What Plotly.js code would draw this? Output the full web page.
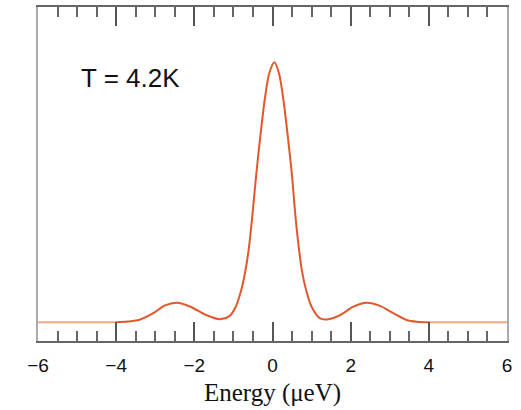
<!DOCTYPE html>
<html>
<head>
<meta charset="utf-8">
<script src="https://cdn.plot.ly/plotly-3.0.1.min.js"></script>
<style>html,body{margin:0;padding:0;background:#fff;}#chart{width:521px;height:410px;}</style>
</head>
<body>
<div id="chart"></div>
<script>
// Energy axis (μeV) and normalized intensity
const energy = [-4.0, -3.7, -3.4, -3.05, -2.75, -2.45, -2.1, -1.7, -1.35, -1.1, -0.94, -0.8, -0.69, -0.6, -0.51, -0.43, -0.35, -0.2, -0.08, 0.05, 0.17, 0.28, 0.43, 0.51, 0.58, 0.67, 0.75, 0.86, 1.0, 1.22, 1.43, 1.73, 2.07, 2.41, 2.75, 3.09, 3.43, 3.7, 4.0];
const intensity = [0.0, 0.003, 0.01, 0.035, 0.065, 0.075, 0.06, 0.028, 0.012, 0.024, 0.06, 0.124, 0.201, 0.291, 0.419, 0.547, 0.663, 0.855, 0.96, 1.0, 0.955, 0.855, 0.663, 0.547, 0.419, 0.291, 0.201, 0.124, 0.06, 0.015, 0.012, 0.028, 0.06, 0.075, 0.063, 0.035, 0.009, 0.002, 0.0];
const tailLeftX = [-6, -4.0];
const tailRightX = [4.0, 6];
const tailY = [0, 0];
const tickVals = [-6, -4, -2, 0, 2, 4, 6];
const annotationText = "T = 4.2K";
const xTitle = "Energy (μeV)";

const traces = [
  {x: tailLeftX, y: tailY, mode: 'lines', line: {color: '#efa989', width: 2}, hoverinfo: 'skip'},
  {x: tailRightX, y: tailY, mode: 'lines', line: {color: '#efa989', width: 2}, hoverinfo: 'skip'},
  {x: energy, y: intensity, mode: 'lines', line: {color: '#e1582c', width: 2, shape: 'spline', smoothing: 0.8}}
];

const layout = {
  width: 521, height: 410,
  margin: {l: 38, r: 14, t: 7, b: 69},
  paper_bgcolor: '#fff', plot_bgcolor: '#fff',
  showlegend: false,
  xaxis: {
    range: [-6, 6],
    tickvals: tickVals,
    ticks: 'inside', ticklen: 19, tickwidth: 2, tickcolor: '#555',
    minor: {dtick: 0.5, ticks: 'inside', ticklen: 10, tickwidth: 2, tickcolor: '#666', showgrid: false},
    showline: true, linecolor: '#666', linewidth: 2, mirror: 'allticks',
    showgrid: false, zeroline: false,
    ticklabelstandoff: 6,
    tickfont: {family: 'Liberation Sans, Arial, sans-serif', size: 19, color: '#111'},
    title: {text: xTitle, font: {family: 'Liberation Serif, Times New Roman, serif', size: 25, color: '#111'}, standoff: 9}
  },
  yaxis: {
    range: [-0.0719, 1.2127],
    showticklabels: false, ticks: '',
    showline: true, linecolor: '#aaa', linewidth: 2, mirror: true,
    showgrid: false, zeroline: false
  },
  annotations: [{
    xref: 'paper', yref: 'paper', x: 0.088, y: 0.787,
    xanchor: 'left', yanchor: 'middle', showarrow: false,
    text: annotationText,
    font: {family: 'Liberation Sans, Arial, sans-serif', size: 26, color: '#111'}
  }]
};

Plotly.newPlot('chart', traces, layout, {staticPlot: true, displayModeBar: false});
</script>
</body>
</html>
